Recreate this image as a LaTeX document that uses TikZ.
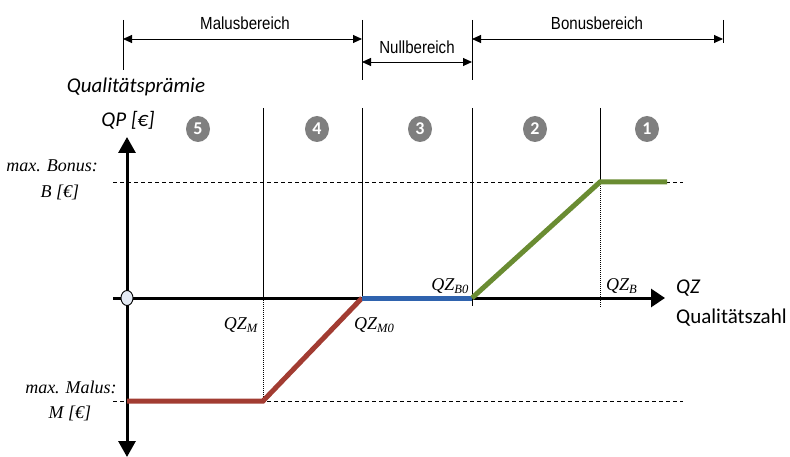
\documentclass[tikz,border=0pt]{standalone}
\usepackage{fontspec}
\setmainfont{Carlito}
\newfontfamily\arialn[FakeStretch=0.86]{Liberation Sans}
\newfontfamily\tim{Liberation Serif}
\usetikzlibrary{arrows.meta,shapes.geometric}
\definecolor{malus}{HTML}{A23C32}
\definecolor{nullc}{HTML}{2F63AE}
\definecolor{bonus}{HTML}{6A8C32}
\definecolor{numgray}{HTML}{7F7F7F}
\definecolor{origfill}{HTML}{E4EAF4}
\tikzset{
  brtxt/.style={font=\arialn\fontsize{17.5}{19}\selectfont, inner sep=0pt},
  sertxt/.style={font=\tim\itshape\fontsize{18}{20}\selectfont, inner sep=0pt},
  sanstxt/.style={font=\fontsize{21}{23}\selectfont, inner sep=0pt},
  sansit/.style={font=\itshape\fontsize{21}{23}\selectfont, inner sep=0pt},
  numcirc/.style={ellipse, fill=numgray, text=white, minimum width=24pt, minimum height=26pt, inner sep=0pt, font=\bfseries\fontsize{18}{20}\selectfont},
  origin/.style={ellipse, draw=black, fill=origfill, line width=0.9pt, minimum width=12pt, minimum height=15pt, inner sep=0pt},
  thin/.style={line width=0.9pt},
  brarrow/.style={line width=0.9pt, {Triangle[length=9pt,width=8pt]}-{Triangle[length=9pt,width=8pt]}},
  axis/.style={line width=3pt},
  curve/.style={line width=5pt, line cap=butt},
  dashline/.style={line width=0.8pt, dash pattern=on 4pt off 3pt},
  dotline/.style={line width=0.7pt, dash pattern=on 1pt off 1pt},
}
\begin{document}
\begin{tikzpicture}[x=1pt,y=-1pt]
\useasboundingbox (0,0) rectangle (790,457);
% coordinates
\coordinate (O) at (127,298);
\coordinate (xl) at (113,298);
\coordinate (xr) at (665,298);
\coordinate (yt) at (127,137);
\coordinate (yb) at (127,457);
\coordinate (M0) at (362,298);
\coordinate (B0) at (472,298);
\coordinate (Mk) at (263,401);
\coordinate (Mst) at (127,401);
\coordinate (Bk) at (600,182);
\coordinate (Bend) at (667,182);
% top brackets
\coordinate (t1a) at (123,20); \coordinate (t1b) at (123,70);
\coordinate (t2a) at (362,20); \coordinate (t2b) at (362,80);
\coordinate (t3a) at (472,20); \coordinate (t3b) at (472,80);
\coordinate (t4a) at (723,20); \coordinate (t4b) at (723,43);
\draw[thin] (t1a) -- (t1b);
\draw[thin] (t2a) -- (t2b);
\draw[thin] (t3a) -- (t3b);
\draw[thin] (t4a) -- (t4b);
\coordinate (ma) at (123,39); \coordinate (mb) at (362,39);
\coordinate (na) at (362,62); \coordinate (nb) at (472,62);
\coordinate (ba) at (472,39); \coordinate (bb) at (723,39);
\draw[brarrow] (ma) -- (mb);
\draw[brarrow] (na) -- (nb);
\draw[brarrow] (ba) -- (bb);
\node[brtxt] (lmal) at (245,23) {Malusbereich};
\node[brtxt] (lnul) at (417,47) {Nullbereich};
\node[brtxt] (lbon) at (597,23) {Bonusbereich};
% region lines
\coordinate (v1t) at (263,108); \coordinate (v1m) at (263,298);
\coordinate (v2t) at (362,108);
\coordinate (v3t) at (472,108); \coordinate (v3b) at (472,306);
\coordinate (v4t) at (600,108); \coordinate (v4b) at (600,308);
\draw[thin] (v1t) -- (v1m);
\draw[dotline] (v1m) -- (Mk);
\draw[thin] (v2t) -- (M0);
\draw[thin] (v3t) -- (v3b);
\draw[thin] (v4t) -- (Bk);
\draw[dotline] (Bk) -- (v4b);
% dashed levels
\coordinate (dBl) at (113,182); \coordinate (dBr) at (683,182);
\coordinate (dMl) at (113,401); \coordinate (dMr) at (683,401);
\draw[dashline] (dBl) -- (dBr);
\draw[dashline] (dMl) -- (dMr);
% axes
\draw[axis, -{Triangle[length=14pt,width=18pt]}] (xl) -- (xr);
\draw[axis, {Triangle[length=16pt,width=17pt]}-{Triangle[length=16pt,width=17pt]}] (yb) -- (yt);
% curves
\draw[curve, malus, line join=miter] (Mst) -- (Mk) -- (M0);
\draw[curve, nullc] (M0) -- (B0);
\draw[curve, bonus, line join=miter] (B0) -- (Bk) -- (Bend);
\node[origin] (orig) at (O) {};
% circled numbers
\node[numcirc] (n5) at (198,129) {5};
\node[numcirc] (n4) at (317,129) {4};
\node[numcirc] (n3) at (420,129) {3};
\node[numcirc] (n2) at (535,129) {2};
\node[numcirc] (n1) at (647,129) {1};
% axis labels
\node[sansit] (qpr) at (136,87) {Qualitätsprämie};
\node[sansit] (qp) at (128,120) {QP [€]};
\node[sansit, anchor=west] (qz) at (676,288) {QZ};
\node[sanstxt, anchor=west] (qzl) at (676,318) {Qualitätszahl};
% serif labels
\node[sertxt, anchor=east] (mb1) at (98,166) {max. Bonus:};
\node[sertxt] (mb2) at (60,192) {B [€]};
\node[sertxt] (mm1) at (71,387) {max. Malus:};
\node[sertxt] (mm2) at (70,413) {M [€]};
\node[sertxt, anchor=east] (qzm) at (258,325) {QZ\textsubscript{M}};
\node[sertxt, anchor=west] (qzm0) at (354,325) {QZ\textsubscript{M0}};
\node[sertxt, anchor=east] (qzb0) at (469,286) {QZ\textsubscript{B0}};
\node[sertxt, anchor=west] (qzb) at (606,286) {QZ\textsubscript{B}};
\end{tikzpicture}
\end{document}
